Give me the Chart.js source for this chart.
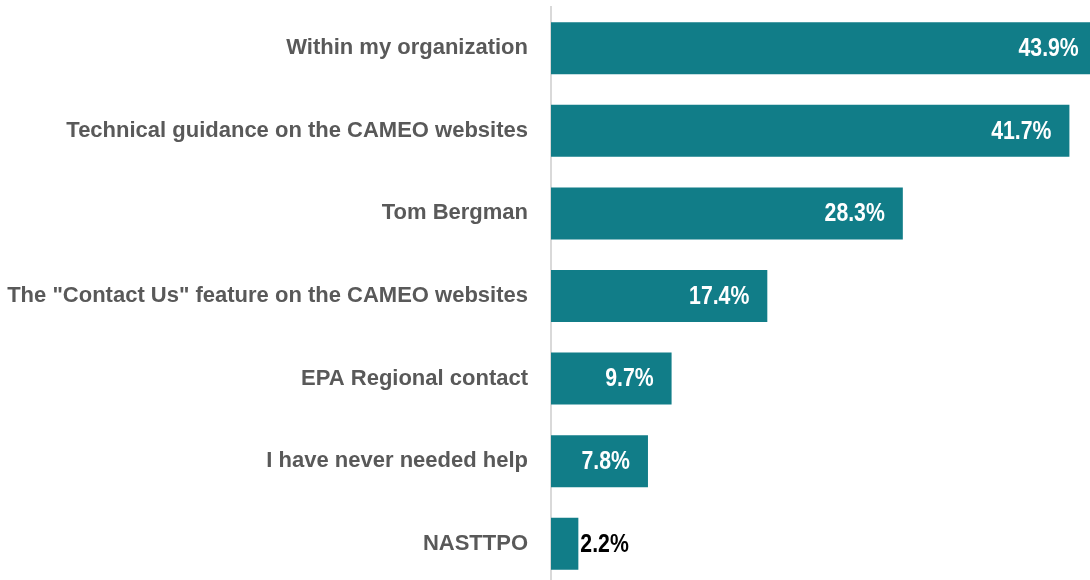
<!DOCTYPE html>
<html>
<head>
<meta charset="utf-8">
<script src="https://cdn.jsdelivr.net/npm/chart.js@4"></script>
<style>
  html, body { margin: 0; padding: 0; overflow: hidden; background: #fff; }
  #wrap { width: 1100px; height: 590px; }
</style>
</head>
<body>
<div id="wrap"><canvas id="grafico"></canvas></div>
<script>
const categorias = [
    'Within my organization',
    'Technical guidance on the CAMEO websites',
    'Tom Bergman',
    'The "Contact Us" feature on the CAMEO websites',
    'EPA Regional contact',
    'I have never needed help',
    'NASTTPO'
];
const valores = [43.9, 41.7, 28.3, 17.4, 9.7, 7.8, 2.2];
const rotulos = ['43.9%', '41.7%', '28.3%', '17.4%', '9.7%', '7.8%', '2.2%'];

const corBarra = '#117d88';
const fonte = 'Arial, "Liberation Sans", sans-serif';

// rótulos de valor dentro/fora das barras (fonte estreita simulada com escala horizontal)
const rotuloPlugin = {
    id: 'rotulos',
    afterDatasetsDraw(chart) {
        const ctx = chart.ctx;
        const meta = chart.getDatasetMeta(0);
        const sx = 0.85;
        ctx.save();
        ctx.font = 'bold 25px ' + fonte;
        ctx.textBaseline = 'middle';
        meta.data.forEach((bar, i) => {
            const texto = rotulos[i];
            ctx.save();
            if (valores[i] < 5) {
                ctx.fillStyle = '#000';
                ctx.textAlign = 'left';
                ctx.translate(bar.x + 2, bar.y + 1);
            } else {
                ctx.fillStyle = '#fff';
                ctx.textAlign = 'right';
                ctx.translate(bar.x - 18, bar.y + 1);
            }
            ctx.scale(sx, 1);
            ctx.fillText(texto, 0, 0);
            ctx.restore();
        });
        ctx.restore();
    }
};

const ctx = document.getElementById('grafico').getContext('2d');
const grafico = new Chart(ctx, {
    type: 'bar',
    data: {
        labels: categorias,
        datasets: [{
            data: valores,
            backgroundColor: corBarra,
            categoryPercentage: 1,
            barPercentage: 0.63
        }]
    },
    options: {
        indexAxis: 'y',
        responsive: true,
        maintainAspectRatio: false,
        animation: false,
        layout: { padding: { top: 7, bottom: 5, left: 0, right: 2 } },
        plugins: {
            legend: { display: false },
            tooltip: { enabled: false }
        },
        scales: {
            x: {
                display: false,
                min: 0,
                max: 44
            },
            y: {
                grid: { display: false },
                border: { display: true, color: '#d9d9d9', width: 2 },
                ticks: {
                    color: '#595959',
                    padding: 15,
                    font: { family: fonte, size: 22, weight: 'bold' }
                },
                afterFit(scale) {
                    scale.width = 551;
                    scale.paddingTop = 0;
                    scale.paddingBottom = 0;
                }
            }
        }
    },
    plugins: [rotuloPlugin]
});
</script>
</body>
</html>
